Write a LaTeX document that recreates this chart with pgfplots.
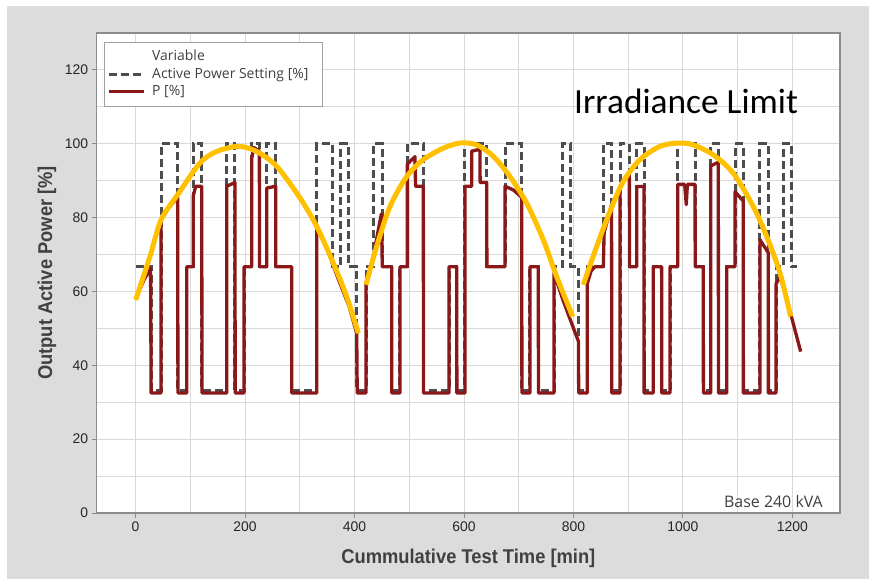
\documentclass[border=0pt]{standalone}
\usepackage{fontspec}
\setmainfont{Liberation Sans}
\newfontfamily\labfont{Liberation Sans}[FakeStretch=0.92]
\newfontfamily\segoe{Open Sans}
\newfontfamily\calib{Carlito}
\usepackage{pgfplots}
\pgfplotsset{compat=1.18}
\definecolor{bg}{HTML}{DCDCDC}
\definecolor{framec}{HTML}{8C8C8C}
\definecolor{gridc}{HTML}{D9D9D9}
\definecolor{pred}{HTML}{8A1818}
\definecolor{setc}{HTML}{4D4D4D}
\definecolor{gold}{HTML}{FFC000}
\definecolor{txt}{HTML}{404040}
\definecolor{tickc}{HTML}{262626}
\definecolor{legc}{HTML}{A0A0A0}
\begin{document}
\begin{tikzpicture}
\fill[white] (0bp,0bp) rectangle (869bp,579bp);
\fill[bg] (7bp,0bp) rectangle (869bp,573bp);
\begin{axis}[
  at={(96.7bp,66bp)}, anchor=south west, scale only axis,
  width=743.3bp, height=480bp,
  xmin=-70.9, xmax=1286.8, ymin=0, ymax=130,
  xtick={0,200,...,1200}, minor xtick={100,300,...,1100},
  ytick={0,20,...,120}, minor ytick={10,30,...,110},
  grid=both,
  major grid style={gridc, line width=1bp},
  minor grid style={gridc, line width=1bp},
  tick pos=left, tick align=outside,
  major tick length=5bp, minor tick length=0pt,
  tick style={framec, line width=1bp},
  axis line style={framec, line width=1.3bp},
  axis background/.style={fill=white},
  /pgf/number format/assume math mode=true,
  /pgf/number format/1000 sep={},
  ticklabel style={font=\fontsize{14}{16}\selectfont, text=tickc},
  xlabel={Cummulative Test Time [min]},
  ylabel={Output Active Power [\%]},
  label style={font=\labfont\bfseries\fontsize{20}{24}\selectfont, text=txt},
  xlabel style={at={(axis description cs:0.5,-0.10625)}, anchor=base},
  ylabel style={at={(axis description cs:-0.0601,0.5)}, anchor=base},
  legend style={at={(axis description cs:0.0098,0.982)}, anchor=north west,
    draw=legc, line width=0.8bp, fill=white,
    font=\segoe\fontsize{14}{16}\selectfont, text=txt,
    inner xsep=3bp, inner ysep=6bp, row sep=0.5bp,
    nodes={inner sep=1.5bp, text height=11bp, text depth=3bp},
    /tikz/every odd column/.append style={column sep=5bp}},
  legend cell align=left,
  legend image code/.code={\draw[#1] (0bp,0bp) -- (35bp,0bp);},
]
\addlegendimage{empty legend}
\addlegendentry{Variable}
\addplot[setc, line width=3bp, dash pattern=on 8bp off 4bp] coordinates {
(0,66.7)(28.3,66.7)(28.3,33.3)(46.6,33.3)(46.6,100)(77,100)(77,33.3)(93.5,33.3)(93.5,66.7)(105.6,66.7)(105.6,100)(120.9,100)(120.9,33.3)(166.5,33.3)(166.5,100)(181.7,100)(181.7,33.3)(198.2,33.3)(198.2,66.7)(212.2,66.7)(212.2,100)(226.2,100)(226.2,66.7)(239.6,66.7)(239.6,100)(256,100)(256,66.7)(285.3,66.7)(285.3,33.3)(331,33.3)(331,100)(359.5,100)(359.5,66.7)(374.8,66.7)(374.8,100)(388.7,100)(388.7,66.7)(404,66.7)(404,33.3)(421,33.3)(421,66.7)(434.4,66.7)(434.4,100)(450.8,100)(450.8,66.7)(468,66.7)(468,33.3)(483,33.3)(483,66.7)(496.4,66.7)(496.4,100)(525.7,100)(525.7,33.3)(572.6,33.3)(572.6,66.7)(586.7,66.7)(586.7,33.3)(601.8,33.3)(601.8,100)(641.5,100)(641.5,66.7)(674.9,66.7)(674.9,100)(705.4,100)(705.4,33.3)(720.5,33.3)(720.5,66.7)(735.7,66.7)(735.7,33.3)(764.4,33.3)(764.4,66.7)(779.5,66.7)(779.5,100)(795,100)(795,66.7)(808.8,66.7)(808.8,33.3)(825.2,33.3)(825.2,66.7)(854.5,66.7)(854.5,100)(869.7,100)(869.7,33.3)(885,33.3)(885,100)(902,100)(902,66.7)(915.4,66.7)(915.4,100)(928.8,100)(928.8,33.3)(945.8,33.3)(945.8,66.7)(961,66.7)(961,33.3)(976.3,33.3)(976.3,66.7)(990.3,66.7)(990.3,100)(1022,100)(1022,66.7)(1037,66.7)(1037,33.3)(1050.6,33.3)(1050.6,100)(1064.5,100)(1064.5,33.3)(1079.8,33.3)(1079.8,66.7)(1095,66.7)(1095,100)(1110,100)(1110,33.3)(1140.6,33.3)(1140.6,100)(1155.8,100)(1155.8,33.3)(1169.9,33.3)(1169.9,66.7)(1183.2,66.7)(1183.2,100)(1198.5,100)(1198.5,66.7)(1207.6,66.7)
};
\addlegendentry{Active Power Setting [\%]\hspace*{9bp}\mbox{}}
\addplot[pred, line width=3.3bp, line join=round] coordinates {
(2,58.5)(15,63)(27.5,66.3)(28.5,32.5)(46.6,32.5)(46.6,79.4)(60,82.5)(77,85.5)(77.5,32.5)(93.5,32.5)(93.5,66.7)(105.6,66.7)(105.6,86)(110,88.5)(120.9,88.5)(121.5,32.5)(166.5,32.5)(166.5,88.5)(181.7,89.5)(182,32.5)(198.2,32.5)(198.2,66.7)(212.2,66.7)(212.2,96)(216,99)(226.2,98)(226.5,66.7)(239.6,66.7)(239.6,88)(256,88.5)(256.3,66.7)(285.3,66.7)(285.5,32.5)(331,32.5)(331,77.5)(350,71.5)(370,63.5)(390,56)(404,48.7)(405,32.5)(421,32.5)(421,61.8)(435,70)(449,81)(450.8,66.7)(468,66.7)(468,32.5)(483,32.5)(483,66.7)(496.4,66.7)(496.4,94.5)(510.5,96.5)(511.5,88.5)(525.7,88.5)(526,32.5)(572.6,32.5)(572.6,66.7)(586.7,66.7)(587,32.5)(601.8,32.5)(601.8,88.5)(614,88.5)(614,98)(629,98.5)(629.5,89.5)(641.5,89.5)(641.8,66.7)(674.9,66.7)(674.9,88.5)(690,87.5)(705.4,85.5)(705.8,32.5)(720.5,32.5)(720.5,66.7)(735.7,66.7)(736,32.5)(764.4,32.5)(764.4,65)(780,58)(795,52)(809,46.5)(809.5,32.5)(825,32.5)(825,62)(832,65.5)(839,66.7)(854.5,66.7)(856,76)(869.5,83.5)(870,32.5)(885,32.5)(885,88)(902,92.5)(902.3,66.7)(915.4,66.7)(915.4,88.4)(928.8,88.4)(929,32.5)(945.8,32.5)(945.8,66.7)(961,66.7)(961.3,32.5)(976.3,32.5)(976.3,66.7)(990.3,66.7)(990.3,89)(1003,89)(1006,83.5)(1008,89)(1022,89)(1022.3,66.7)(1037,66.7)(1037.3,32.5)(1050.6,32.5)(1050.6,94)(1064.5,95)(1064.8,32.5)(1079.8,32.5)(1079.8,66.7)(1095,66.7)(1095,87)(1110,84.5)(1110.3,32.5)(1140.6,32.5)(1140.6,74)(1155.8,70.5)(1156,32.5)(1169.9,32.5)(1169.9,62)(1177,64)(1186,60)(1198,53.2)(1215,43.7)
};
\addlegendentry{P [\%]}
\addplot[gold, line width=5bp, smooth, forget plot] coordinates {
(0.3,57.7)(26.5,69.5)(46.6,79.4)(77,86.2)(117.8,94.8)(148.3,97.9)(187.8,99.3)(221.4,97.9)(257.9,93.9)(300.5,85.3)(331,77.6)(361.3,67.7)(385.7,58.6)(407,48.7)
};
\addplot[gold, line width=5bp, smooth, forget plot] coordinates {
(421,61.8)(440.5,72.2)(464.8,83)(495.3,91.1)(525.7,95.7)(562.2,98.8)(592.7,100.2)(623.2,99.7)(653.5,96.6)(684,91.1)(714.5,83.9)(744.8,74)(769.3,64)(798.5,53.2)
};
\addplot[gold, line width=5bp, smooth, forget plot] coordinates {
(817.9,61.8)(842.4,72.2)(866.7,81.7)(891,89.8)(921.5,95.7)(958,99.3)(991.4,100.2)(1018.8,99.7)(1055.3,97)(1092,92)(1128.4,83)(1152.9,74.9)(1177.2,65)(1196.7,53.2)
};
\end{axis}
\node[anchor=base west, inner sep=0, font=\calib\fontsize{35.5}{40}\selectfont] at (574bp,465.7bp) {Irradiance Limit};
\node[anchor=base east, inner sep=0, font=\segoe\fontsize{16}{18}\selectfont, text=txt] at (823bp,71.7bp) {Base 240 kVA};
\pgfresetboundingbox
\path (0bp,0bp) rectangle (869bp,579bp);
\end{tikzpicture}
\end{document}
